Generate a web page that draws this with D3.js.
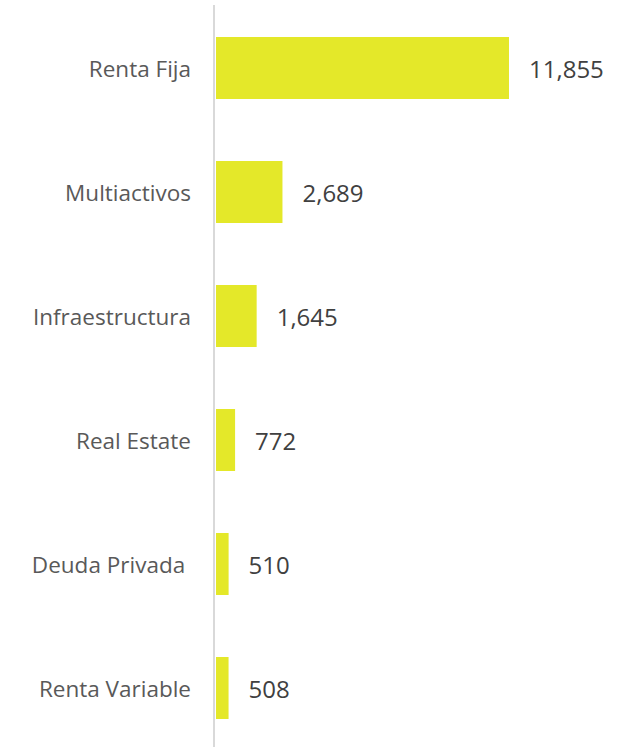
<!DOCTYPE html>
<html>
<head>
<meta charset="utf-8">
<script src="https://cdn.jsdelivr.net/npm/d3@7"></script>
<style>
  html, body { margin: 0; padding: 0; background: #fff; }
  svg { display: block; }
  .label { font-family: "Open Sans", sans-serif; font-size: 22.5px; fill: #595959; white-space: pre; }
  .value { font-family: "Open Sans", sans-serif; font-size: 24px; fill: #404040; }
</style>
</head>
<body>
<svg id="chart"></svg>
<script>
const categories = ["Renta Fija", "Multiactivos", "Infraestructura", "Real Estate", "Deuda Privada ", "Renta Variable"];
const values = [11855, 2689, 1645, 772, 510, 508];

const width = 638, height = 747;
const svg = d3.select('#chart').attr('width', width).attr('height', height);

const data = categories.map((c, i) => ({ name: c, value: values[i] }));

const x = d3.scaleLinear().domain([0, 11855]).range([216, 509]);
const y = d3.scaleBand()
  .domain(categories)
  .range([6, 750])
  .paddingInner(0.5)
  .paddingOuter(0.25);

svg.append('g')
  .selectAll('rect')
  .data(data)
  .join('rect')
  .attr('x', x(0))
  .attr('y', d => y(d.name))
  .attr('width', d => x(d.value) - x(0))
  .attr('height', y.bandwidth())
  .attr('fill', '#e4e829');

// axis line
svg.append('line')
  .attr('x1', 214).attr('x2', 214)
  .attr('y1', 5).attr('y2', height)
  .attr('stroke', '#d9d9d9')
  .attr('stroke-width', 2);

svg.append('g')
  .selectAll('text')
  .data(data)
  .join('text')
  .attr('class', 'label')
  .attr('x', 191)
  .attr('y', d => y(d.name) + y.bandwidth() / 2)
  .attr('text-anchor', 'end')
  .attr('dominant-baseline', 'central')
  .text(d => d.name);

svg.append('g')
  .selectAll('text')
  .data(data)
  .join('text')
  .attr('class', 'value')
  .attr('x', d => x(d.value) + 20)
  .attr('y', d => y(d.name) + y.bandwidth() / 2)
  .attr('dominant-baseline', 'central')
  .text(d => d3.format(',')(d.value));
</script>
</body>
</html>
